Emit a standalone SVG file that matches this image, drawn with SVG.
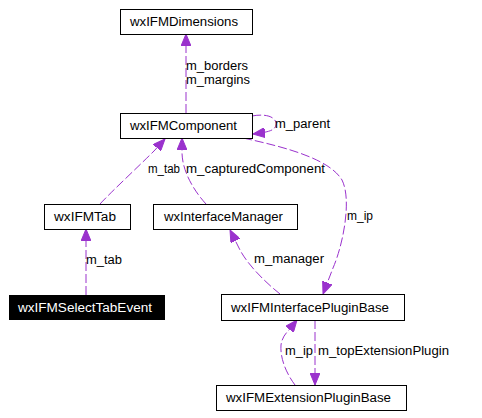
<svg xmlns="http://www.w3.org/2000/svg" width="482" height="418" viewBox="0 0 482 418">
<style>
.box{fill:#ffffff;stroke:#000000;stroke-width:1}
.sel{fill:#000000;stroke:#000000;stroke-width:1}
.nt{font-family:"Liberation Sans",Arial,sans-serif;font-size:12.5px;fill:#000000}
.wt{font-family:"Liberation Sans",Arial,sans-serif;font-size:12.5px;fill:#ffffff}
.lbl{font-family:"Liberation Sans",Arial,sans-serif;font-size:12.5px;fill:#000000}
.edge{fill:none;stroke:#9a32cd;stroke-width:1;stroke-dasharray:9,3;marker-end:url(#ah)}
</style>
<defs>
<marker id="ah" markerUnits="userSpaceOnUse" markerWidth="12" markerHeight="10" refX="12" refY="5" orient="auto">
<path d="M0,0 L12,5 L0,10 z" fill="#9a32cd" stroke="#9a32cd" stroke-width="1"/>
</marker>
</defs>
<rect width="482" height="418" fill="#ffffff"/>
<g id="connectors">
<path class="edge" d="M186,113 L186,34"/>
<path class="edge" d="M252,116 C268,113 277,118 276,125 C275,130 270,132 253,134"/>
<path class="edge" d="M100,204 C110,193 140,165 154,151 L165,139"/>
<path class="edge" d="M206,204 C195,192 182,172 182,152 L182,138"/>
<path class="edge" d="M243,138 C290,148 330,160 342,180 C352,200 343,245 333,268 L323,294"/>
<path class="edge" d="M280,294 C265,282 248,265 240,250 L230,230"/>
<path class="edge" d="M295,385 C286,373 280,358 281,345 C282,338 285,334 289,330 L297,320"/>
<path class="edge" d="M315,320 L315,385"/>
<path class="edge" d="M86,295 L86,229"/>
<text class="lbl" x="186" y="70" textLength="62" lengthAdjust="spacingAndGlyphs">m_borders</text>
<text class="lbl" x="186" y="84" textLength="64" lengthAdjust="spacingAndGlyphs">m_margins</text>
<text class="lbl" x="275" y="128" textLength="55" lengthAdjust="spacingAndGlyphs">m_parent</text>
<text class="lbl" x="148" y="173" textLength="32" lengthAdjust="spacingAndGlyphs">m_tab</text>
<text class="lbl" x="186" y="173" textLength="139" lengthAdjust="spacingAndGlyphs">m_capturedComponent</text>
<text class="lbl" x="347" y="220" textLength="26" lengthAdjust="spacingAndGlyphs">m_ip</text>
<text class="lbl" x="254" y="263" textLength="70" lengthAdjust="spacingAndGlyphs">m_manager</text>
<text class="lbl" x="86" y="264" textLength="36" lengthAdjust="spacingAndGlyphs">m_tab</text>
<text class="lbl" x="285" y="355" textLength="28" lengthAdjust="spacingAndGlyphs">m_ip</text>
<text class="lbl" x="318" y="355" textLength="131" lengthAdjust="spacingAndGlyphs">m_topExtensionPlugin</text>
</g>
<g id="wxIFMDimensions">
<rect class="box" x="120.5" y="9.5" width="132" height="25"/>
<text class="nt" x="130" y="26" textLength="108" lengthAdjust="spacingAndGlyphs">wxIFMDimensions</text>
</g>
<g id="wxIFMComponent">
<rect class="box" x="120.5" y="113.5" width="132" height="25"/>
<text class="nt" x="130" y="130" textLength="107" lengthAdjust="spacingAndGlyphs">wxIFMComponent</text>
</g>
<g id="wxIFMTab">
<rect class="box" x="44.5" y="204.5" width="86" height="25"/>
<text class="nt" x="54" y="221" textLength="62" lengthAdjust="spacingAndGlyphs">wxIFMTab</text>
</g>
<g id="wxInterfaceManager">
<rect class="box" x="153.5" y="204.5" width="144" height="25"/>
<text class="nt" x="164" y="221" textLength="119" lengthAdjust="spacingAndGlyphs">wxInterfaceManager</text>
</g>
<g id="wxIFMSelectTabEvent">
<rect class="sel" x="9.5" y="295.5" width="155" height="24"/>
<text class="wt" x="18" y="312" textLength="134" lengthAdjust="spacingAndGlyphs">wxIFMSelectTabEvent</text>
</g>
<g id="wxIFMInterfacePluginBase">
<rect class="box" x="221.5" y="294.5" width="183" height="26"/>
<text class="nt" x="231" y="312" textLength="158" lengthAdjust="spacingAndGlyphs">wxIFMInterfacePluginBase</text>
</g>
<g id="wxIFMExtensionPluginBase">
<rect class="box" x="216.5" y="385.5" width="190" height="25"/>
<text class="nt" x="226" y="402" textLength="165" lengthAdjust="spacingAndGlyphs">wxIFMExtensionPluginBase</text>
</g>
</svg>
